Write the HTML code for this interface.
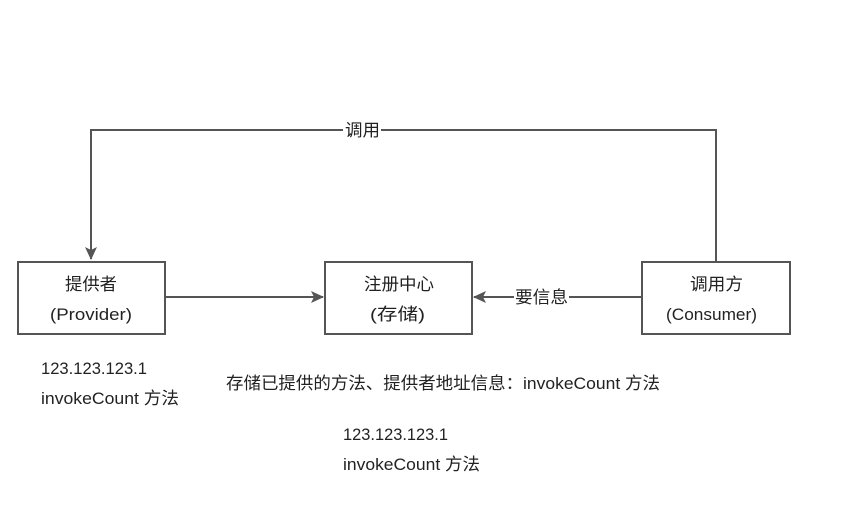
<!DOCTYPE html>
<html><head><meta charset="utf-8"><style>
html,body{margin:0;padding:0;background:#fff;}
svg{display:block;}
text{font-family:"Liberation Sans","Noto Sans CJK SC",sans-serif;font-size:17px;fill:#222;}
</style></head><body>
<svg width="841" height="519" viewBox="0 0 841 519">
<defs>
<marker id="a" markerWidth="14" markerHeight="12" refX="12" refY="6" orient="auto" markerUnits="userSpaceOnUse">
<path d="M0,0 L13,6 L0,12 L3,6 Z" fill="#555"/>
</marker>
</defs>
<g stroke="#555" stroke-width="2" fill="none">
<rect x="18" y="262" width="147" height="72" fill="#fff"/>
<rect x="325" y="262" width="147" height="72" fill="#fff"/>
<rect x="642" y="262" width="148" height="72" fill="#fff"/>
<polyline points="716,262 716,130 91,130 91,259" marker-end="url(#a)"/>
<line x1="166" y1="297" x2="323" y2="297" marker-end="url(#a)"/>
<line x1="641" y1="297" x2="474" y2="297" marker-end="url(#a)"/>
</g>
<rect x="343" y="121" width="38" height="18" fill="#fff"/>
<g lengthAdjust="spacingAndGlyphs">
<text x="345" y="136" textLength="35" lengthAdjust="spacingAndGlyphs">调用</text>
<rect x="514" y="288" width="55" height="18" fill="#fff"/>
<text x="515" y="303" textLength="53" lengthAdjust="spacingAndGlyphs">要信息</text>
<text x="65" y="290" textLength="52" lengthAdjust="spacingAndGlyphs">提供者</text>
<text x="50" y="320" textLength="82" lengthAdjust="spacingAndGlyphs">(Provider)</text>
<text x="364" y="290" textLength="70" lengthAdjust="spacingAndGlyphs">注册中心</text>
<text x="370" y="320" textLength="55" lengthAdjust="spacingAndGlyphs">(存储)</text>
<text x="690" y="290" textLength="53" lengthAdjust="spacingAndGlyphs">调用方</text>
<text x="666" y="320" textLength="91" lengthAdjust="spacingAndGlyphs">(Consumer)</text>
<text x="41" y="374" textLength="106" lengthAdjust="spacingAndGlyphs">123.123.123.1</text>
<text x="41" y="404" textLength="138" lengthAdjust="spacingAndGlyphs">invokeCount 方法</text>
<text x="226" y="389" textLength="434" lengthAdjust="spacingAndGlyphs">存储已提供的方法、提供者地址信息：invokeCount 方法</text>
<text x="343" y="440" textLength="105" lengthAdjust="spacingAndGlyphs">123.123.123.1</text>
<text x="343" y="470" textLength="137" lengthAdjust="spacingAndGlyphs">invokeCount 方法</text>
</g>
</svg>
</body></html>
